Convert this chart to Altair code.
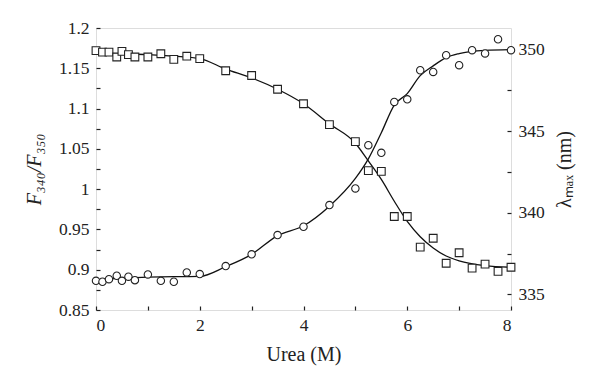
import altair as alt
import pandas as pd

# Urea concentration (M)
urea = [0, 0.125, 0.25, 0.4, 0.5, 0.625, 0.75, 1, 1.25, 1.5, 1.75, 2, 2.5, 3, 3.5,
        4, 4.5, 5, 5.25, 5.5, 5.75, 6, 6.25, 6.5, 6.75, 7, 7.25, 7.5, 7.75, 8]
# F340/F350 (squares, left axis)
ratio = [1.172, 1.170, 1.170, 1.164, 1.171, 1.167, 1.164, 1.164, 1.168, 1.161, 1.165, 1.162,
         1.147, 1.141, 1.124, 1.106, 1.080, 1.059, 1.023, 1.022, 0.966, 0.966, 0.928, 0.939,
         0.908, 0.921, 0.902, 0.907, 0.898, 0.903]
# lambda max (circles, right axis)
lam = [335.83, 335.77, 335.93, 336.14, 335.83, 336.08, 335.87, 336.22, 335.83, 335.77, 336.34,
       336.24, 336.73, 337.45, 338.63, 339.14, 340.47, 341.49, 344.14, 343.67, 346.79, 346.95,
       348.73, 348.63, 349.65, 349.04, 349.96, 349.76, 350.63, 349.96]

# fitted curves
fit_x = [0, 0.5, 1, 1.5, 2, 2.5, 3, 3.5, 4, 4.5, 5, 5.25, 5.5, 5.75, 6, 6.25, 6.5, 6.75, 7, 7.5, 8]
fit_ratio = [1.169, 1.168, 1.167, 1.165, 1.162, 1.149, 1.138, 1.124, 1.106, 1.081, 1.057, 1.035,
             1.012, 0.985, 0.960, 0.941, 0.927, 0.917, 0.911, 0.905, 0.903]
fit_lam = [335.87, 336.0, 336.05, 336.08, 336.1, 336.7, 337.45, 338.6, 339.2, 340.4, 342.1, 343.3,
           344.9, 346.6, 347.3, 348.4, 349.0, 349.5, 349.75, 349.95, 350.0]

x_ticks = [0, 1, 2, 3, 4, 5, 6, 7, 8]
left_ticks = [0.85, 0.875, 0.9, 0.925, 0.95, 0.975, 1.0, 1.025, 1.05, 1.075, 1.1, 1.125, 1.15, 1.175, 1.2]
right_ticks = [335, 337.5, 340, 342.5, 345, 347.5, 350]

pts = pd.DataFrame({"urea": urea, "ratio": ratio, "lam": lam})
fit = pd.DataFrame({"urea": fit_x, "ratio": fit_ratio, "lam": fit_lam})

FONT = "Liberation Serif"
INK = "#222222"

xs = alt.Scale(domain=[0, 8], nice=False)
ys_l = alt.Scale(domain=[0.85, 1.2], nice=False, zero=False)
ys_r = alt.Scale(domain=[334.04, 351.32], nice=False, zero=False)

common = dict(offset=-4, tickSize=4, domain=False, grid=False, tickColor=INK, tickWidth=1.2,
              labelFont=FONT, labelFontSize=17.5, labelColor=INK, titleFont=FONT,
              titleFontSize=20, titleColor=INK, titleFontWeight="normal", labelOverlap=False)

x_axis = alt.Axis(values=x_ticks, labelExpr="datum.value % 2 == 0 ? datum.label : ''",
                  title="Urea (M)", labelPadding=6, titlePadding=11, **common)
x_enc = alt.X("urea:Q", scale=xs, axis=x_axis)

left_axis = alt.Axis(values=left_ticks, orient="left",
                     labelExpr="abs(datum.value*20 - round(datum.value*20)) < 0.000001 ? format(datum.value, '~g') : ''",
                     title="F₃₄₀/F₃₅₀", titleFontStyle="italic", labelPadding=7, titlePadding=14, **common)
right_axis = alt.Axis(values=right_ticks, orient="right",
                      labelExpr="datum.value % 5 == 0 ? datum.label : ''",
                      title="λₘₐₓ (nm)", titleAngle=270, titleBaseline="top",
                      labelPadding=7, titlePadding=10, **common)

base_f = alt.Chart(fit)
base_p = alt.Chart(pts)

sq_line = base_f.mark_line(color="#111111", strokeWidth=1.3, interpolate="monotone").encode(
    x=x_enc, y=alt.Y("ratio:Q", scale=ys_l, axis=left_axis))
ci_line = base_f.mark_line(color="#111111", strokeWidth=1.3, interpolate="monotone").encode(
    x=x_enc, y=alt.Y("lam:Q", scale=ys_r, axis=right_axis))
sq_pts = base_p.mark_point(shape="square", size=60, filled=False, fill="white", fillOpacity=1,
                           stroke="#222222", strokeWidth=1.1, opacity=1).encode(
    x=x_enc, y=alt.Y("ratio:Q", scale=ys_l, axis=None))
ci_pts = base_p.mark_point(shape="circle", size=55, filled=False, fill="white", fillOpacity=1,
                           stroke="#222222", strokeWidth=1.1, opacity=1).encode(
    x=x_enc, y=alt.Y("lam:Q", scale=ys_r, axis=None))

chart = alt.layer(sq_line, ci_line, sq_pts, ci_pts).resolve_scale(y="independent").resolve_axis(
    y="independent").properties(
    width=415, height=282,
    autosize=alt.AutoSizeParams(type="none"),
    padding={"left": 88, "top": 20, "right": 70, "bottom": 62},
).configure_view(stroke="#333333", strokeWidth=1.3).configure(background="white")

chart.save("out.html", embed_options={"renderer": "svg", "actions": False})
